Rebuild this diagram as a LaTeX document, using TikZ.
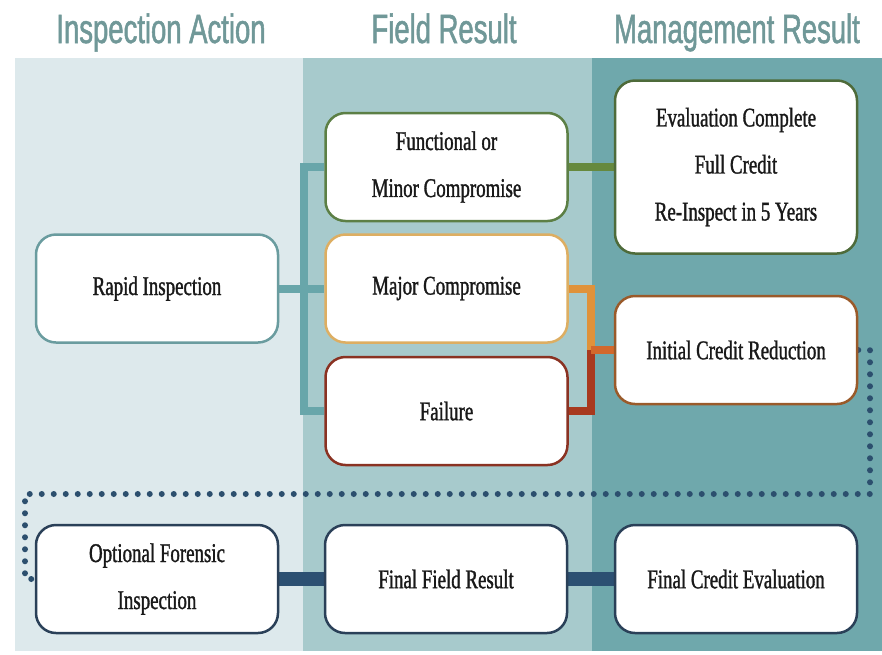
\documentclass[tikz,border=0pt]{standalone}
\usepackage{fontspec}
\usetikzlibrary{backgrounds}
\newfontfamily\boxfont[FakeStretch=0.7,FakeBold=1.2]{Liberation Serif}
\newfontfamily\headfont[FakeStretch=0.67,FakeBold=1.2]{Liberation Sans}
\definecolor{bgA}{HTML}{DDE9EC}
\definecolor{bgB}{HTML}{A7CACC}
\definecolor{bgC}{HTML}{6FA8AC}
\definecolor{headc}{HTML}{709898}
\definecolor{tealln}{HTML}{68A6AA}
\definecolor{tealbd}{HTML}{6A9C9F}
\definecolor{greenbd}{HTML}{5C7F45}
\definecolor{greenln}{HTML}{66893E}
\definecolor{dgreenbd}{HTML}{4E6B3A}
\definecolor{tanbd}{HTML}{DDAE62}
\definecolor{orangeln}{HTML}{E0923A}
\definecolor{redbd}{HTML}{8A3222}
\definecolor{redln}{HTML}{A8391E}
\definecolor{midln}{HTML}{D2682C}
\definecolor{brownbd}{HTML}{9A5A2A}
\definecolor{navybd}{HTML}{2A4058}
\definecolor{navyln}{HTML}{2C5072}
\definecolor{dotc}{HTML}{2C4F6E}
\begin{document}
\begin{tikzpicture}[x=1pt,y=-1pt,
  box/.style={draw, fill=white, rounded corners=20pt, line width=2.5pt,
    minimum width=242pt, minimum height=108pt, inner sep=0pt, align=center,
    text=black!90, font=\boxfont\fontsize{27}{47}\selectfont},
  head/.style={anchor=base, text=headc, font=\headfont\fontsize{41}{41}\selectfont},
  conn/.style={line width=8pt},
  dotline/.style={dotc, line width=6pt, line cap=round, dash pattern=on 0pt off 12pt}]
\useasboundingbox (0,0) rectangle (882,654);
% headers
\node[head] (h1) at (161,43) {Inspection Action};
\node[head] (h2) at (444,43) {Field Result};
\node[head] (h3) at (737,43) {Management Result};
% coordinates
\coordinate (jx) at (304,0);
\coordinate (ox) at (591,0);
\coordinate (dr1) at (870,350);
\coordinate (dr2) at (870,494);
\coordinate (dl1) at (25,494);
\coordinate (dl2) at (25,579);
% boxes
\node[box, draw=tealbd] (rapid) at (157,288.5) {Rapid Inspection};
\node[box, draw=greenbd] (func) at (446.5,167) {Functional or\\Minor Compromise};
\node[box, draw=tanbd] (major) at (446.5,288.5) {Major Compromise};
\node[box, draw=redbd] (fail) at (446.5,411) {Failure};
\node[box, draw=dgreenbd, minimum height=173pt] (eval) at (736,167) {Evaluation Complete\\Full Credit\\Re-Inspect in 5 Years};
\node[box, draw=brownbd] (init) at (736,350) {Initial Credit Reduction};
\node[box, draw=navybd] (opt) at (157,579) {Optional Forensic\\Inspection};
\node[box, draw=navybd] (ffr) at (446,579) {Final Field Result};
\node[box, draw=navybd] (fce) at (736,579) {Final Credit Evaluation};
\begin{scope}[on background layer]
% background bands
\fill[white] (0,0) rectangle (882,654);
\fill[bgA] (15,58) rectangle (303,651);
\fill[bgB] (303,58) rectangle (592,651);
\fill[bgC] (592,58) rectangle (882,651);
% teal bracket
\draw[conn, tealln] (rapid.east) -- (major.west);
\draw[conn, tealln] (func.west) -- (func.west -| jx) -- (fail.west -| jx) -- (fail.west);
% green
\draw[conn, greenln] (func.east) -- (eval.west);
% orange / red
\draw[conn, orangeln] (major.east) -- (major.east -| ox) -- (init.west -| ox);
\draw[conn, redln] (fail.east) -- (fail.east -| ox) -- (init.west -| ox);
\draw[conn, midln] (init.west -| ox) -- (init.west);
% navy
\draw[navyln, line width=14pt] (opt.east) -- (ffr.west);
\draw[navyln, line width=14pt] (ffr.east) -- (fce.west);
% dotted loop
\draw[dotline] (init.east) -- (dr1) -- (dr2) -- (dl1) -- (dl2) -- (opt.west);
\end{scope}
\end{tikzpicture}
\end{document}
